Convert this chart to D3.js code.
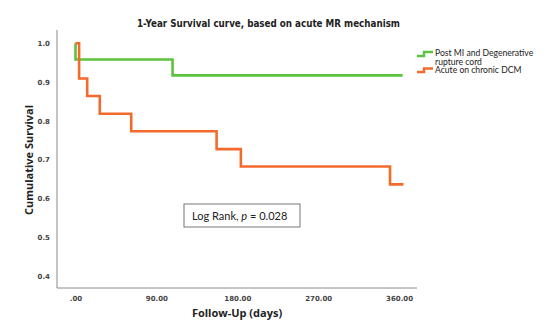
<!DOCTYPE html>
<html lang="en">
<head>
  <title>1-Year Survival curve</title>
  <script src="https://cdnjs.cloudflare.com/ajax/libs/d3/7.8.5/d3.min.js"></script>
  <style>
    body { margin: 0; background: #fff; }
    svg { display: block; }
  </style>
</head>
<body>
  <script>
    var width = 550;
    var height = 332;

    // Kaplan-Meier steps
    var greenDays = [0, 0, 108, 364];
    var greenSurv = [1, 0.958, 0.917, 0.917];
    var orangeDays = [0, 4, 13, 27, 62, 157, 184, 350, 365];
    var orangeSurv = [1, 0.909, 0.864, 0.818, 0.773, 0.727, 0.682, 0.636, 0.636];

    var xTicks = [0, 90, 180, 270, 360];
    var yTicks = [0.4, 0.5, 0.6, 0.7, 0.8, 0.9, 1.0];
    var seriesNames = ["Post MI and Degenerative", "rupture cord", "Acute on chronic DCM"];

    var green = "#5cc43c";
    var orange = "#f46a2c";

    var x = d3.scaleLinear().domain([-20.6, 380]).range([57, 417]);
    var y = d3.scaleLinear().domain([0.369, 1.034]).range([288, 30]);

    var svg = d3.select("body").append("svg")
      .attr("width", width)
      .attr("height", height);

    // axes lines
    svg.append("line").attr("x1", 57).attr("x2", 57).attr("y1", 30).attr("y2", 288)
      .attr("stroke", "#8a8a8a").attr("stroke-width", 1);
    svg.append("line").attr("x1", 57).attr("x2", 417).attr("y1", 288).attr("y2", 288)
      .attr("stroke", "#8a8a8a").attr("stroke-width", 1);

    var yAxis = d3.axisLeft(y).tickValues(yTicks).tickFormat(d3.format(".1f")).tickSize(0).tickPadding(7);
    svg.append("g").attr("transform", "translate(57,0)").call(yAxis)
      .call(function (g) { g.select(".domain").remove(); })
      .selectAll("text")
      .attr("font-family", "DejaVu Sans").attr("font-size", 7).attr("font-weight", "bold").attr("fill", "#444");

    var xAxis = d3.axisBottom(x).tickValues(xTicks)
      .tickFormat(function (d) { return d === 0 ? ".00" : d3.format(".2f")(d); })
      .tickSize(0).tickPadding(8);
    svg.append("g").attr("transform", "translate(0,288)").call(xAxis)
      .call(function (g) { g.select(".domain").remove(); })
      .selectAll("text")
      .attr("font-family", "DejaVu Sans").attr("font-size", 7).attr("font-weight", "bold").attr("fill", "#444");

    var line = d3.line()
      .x(function (d) { return x(d[0]); })
      .y(function (d) { return y(d[1]); })
      .curve(d3.curveStepAfter);

    svg.append("path")
      .datum(d3.zip(greenDays, greenSurv))
      .attr("d", line)
      .attr("fill", "none").attr("stroke", green).attr("stroke-width", 2.6);

    svg.append("path")
      .datum(d3.zip(orangeDays, orangeSurv))
      .attr("d", line)
      .attr("fill", "none").attr("stroke", orange).attr("stroke-width", 2.6);

    // title (squeezed to the reference width)
    svg.append("text")
      .attr("x", 137).attr("y", 27)
      .attr("textLength", 263).attr("lengthAdjust", "spacingAndGlyphs")
      .attr("font-family", "DejaVu Sans").attr("font-weight", "bold").attr("font-size", 10.5)
      .attr("fill", "#222")
      .text("1-Year Survival curve, based on acute MR mechanism");

    // axis titles
    svg.append("text")
      .attr("transform", "translate(33,160) rotate(-90)")
      .attr("text-anchor", "middle")
      .attr("font-family", "Open Sans").attr("font-weight", "bold").attr("font-size", 11)
      .attr("fill", "#222")
      .text("Cumulative Survival");

    svg.append("text")
      .attr("x", 237).attr("y", 317)
      .attr("text-anchor", "middle")
      .attr("font-family", "Open Sans").attr("font-weight", "bold").attr("font-size", 11)
      .attr("fill", "#222")
      .text("Follow-Up (days)");

    // legend
    var legendSym = d3.line().curve(d3.curveStepAfter);
    svg.append("path")
      .attr("d", legendSym([[417, 56], [424, 52], [433, 52]]))
      .attr("fill", "none").attr("stroke", green).attr("stroke-width", 2.4);
    svg.append("path")
      .attr("d", legendSym([[417, 72], [424, 68.5], [433, 68.5]]))
      .attr("fill", "none").attr("stroke", orange).attr("stroke-width", 2.4);

    var legText = svg.append("g")
      .attr("font-family", "Lato").attr("font-size", 8.6).attr("fill", "#222");
    legText.append("text").attr("x", 435).attr("y", 56).text(seriesNames[0]);
    legText.append("text").attr("x", 435).attr("y", 64.5).text(seriesNames[1]);
    legText.append("text").attr("x", 435).attr("y", 73).text(seriesNames[2]);

    // log rank box
    svg.append("rect")
      .attr("x", 184).attr("y", 204).attr("width", 116).attr("height", 23)
      .attr("fill", "#fff").attr("stroke", "#777").attr("stroke-width", 1);
    var lr = svg.append("text")
      .attr("x", 192).attr("y", 220)
      .attr("font-family", "Lato").attr("font-size", 11).attr("fill", "#222");
    lr.append("tspan").text("Log Rank, ");
    lr.append("tspan").attr("font-style", "italic").text("p");
    lr.append("tspan").text(" = 0.028");
  </script>
</body>
</html>
